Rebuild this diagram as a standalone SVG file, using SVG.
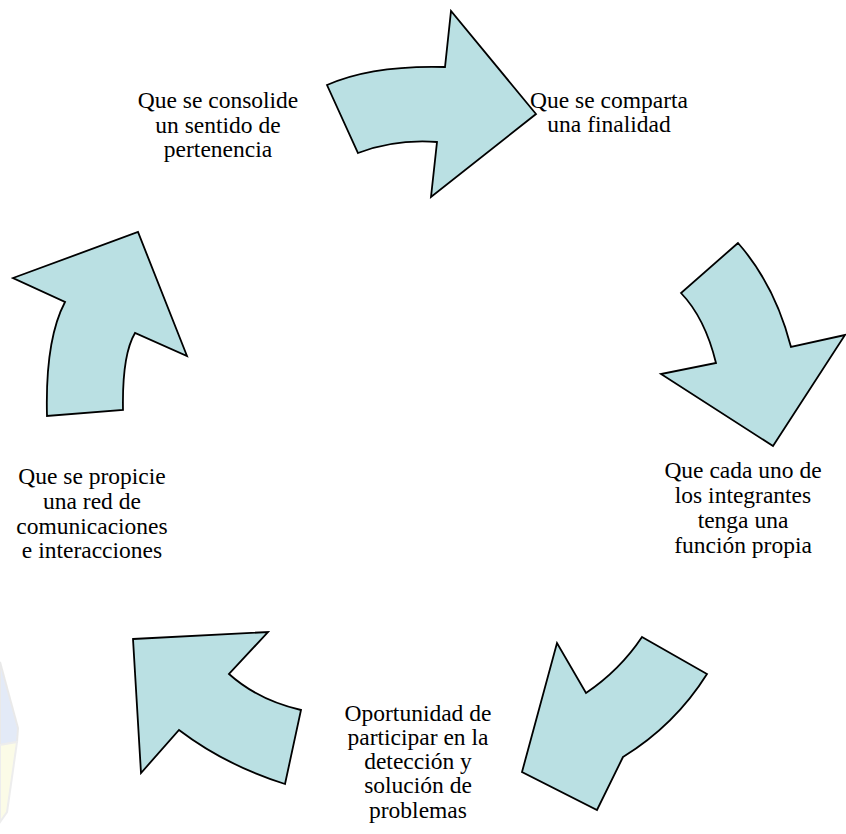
<svg xmlns="http://www.w3.org/2000/svg" width="846" height="834" viewBox="0 0 846 834">
<style>
.arrow{fill:#BAE0E3;stroke:#000;stroke-width:1.8;stroke-linejoin:miter}
text{font-family:'Liberation Serif','Times New Roman',serif;font-size:23.5px;fill:#000;text-anchor:middle}
</style>
<rect width="846" height="834" fill="#fff"/>
<g id="watermark" opacity="0.6">
<polygon points="0,662 18,728 17,742 0,745" fill="#d2ddf3" stroke="#dcdcdc" stroke-width="2"/>
<polygon points="0,745 17,742 7,812 0,822" fill="#fafad8" stroke="#e2e2e2" stroke-width="2"/>
</g>
<g id="connectors">
<path id="arrow-top" class="arrow" d="M327,85 Q372,65 445,67 L451,11 L536,114 L431,197 L437,142 Q395,139 358,153 Z"/>
<path id="arrow-right" class="arrow" d="M738,243 L681,293 Q705,318 716,363 L661,374 L773,446 L845,335 L791,347 Q775,285 738,243 Z"/>
<path id="arrow-bottom-right" class="arrow" d="M642,637 L707,674 Q675,725 623,757 L597,810 L522,772 L557,643 L586,693 Q620,670 642,637 Z"/>
<path id="arrow-bottom-left" class="arrow" d="M133,639 L268,632 L229,674 Q258,700 301,710 L285,784 Q225,765 179,730 L141,773 Z"/>
<path id="arrow-left" class="arrow" d="M13,278 L138,232 L187,356 L135,333 Q122,355 123,410 L47,416 Q45,340 65,302 Z"/>
</g>
<g id="node-consolide">
<text x="218" y="108">Que se consolide</text>
<text x="218" y="133">un sentido de</text>
<text x="218" y="157">pertenencia</text>
</g>
<g id="node-comparta">
<text x="609" y="108">Que se comparta</text>
<text x="609" y="132">una finalidad</text>
</g>
<g id="node-funcion">
<text x="743" y="478">Que cada uno de</text>
<text x="743" y="503">los integrantes</text>
<text x="743" y="528">tenga una</text>
<text x="743" y="553">función propia</text>
</g>
<g id="node-oportunidad">
<text x="418" y="721">Oportunidad de</text>
<text x="418" y="745">participar en la</text>
<text x="418" y="769">detección y</text>
<text x="418" y="793">solución de</text>
<text x="418" y="818">problemas</text>
</g>
<g id="node-propicie">
<text x="92" y="484">Que se propicie</text>
<text x="92" y="509">una red de</text>
<text x="92" y="534">comunicaciones</text>
<text x="92" y="558">e interacciones</text>
</g>
</svg>
